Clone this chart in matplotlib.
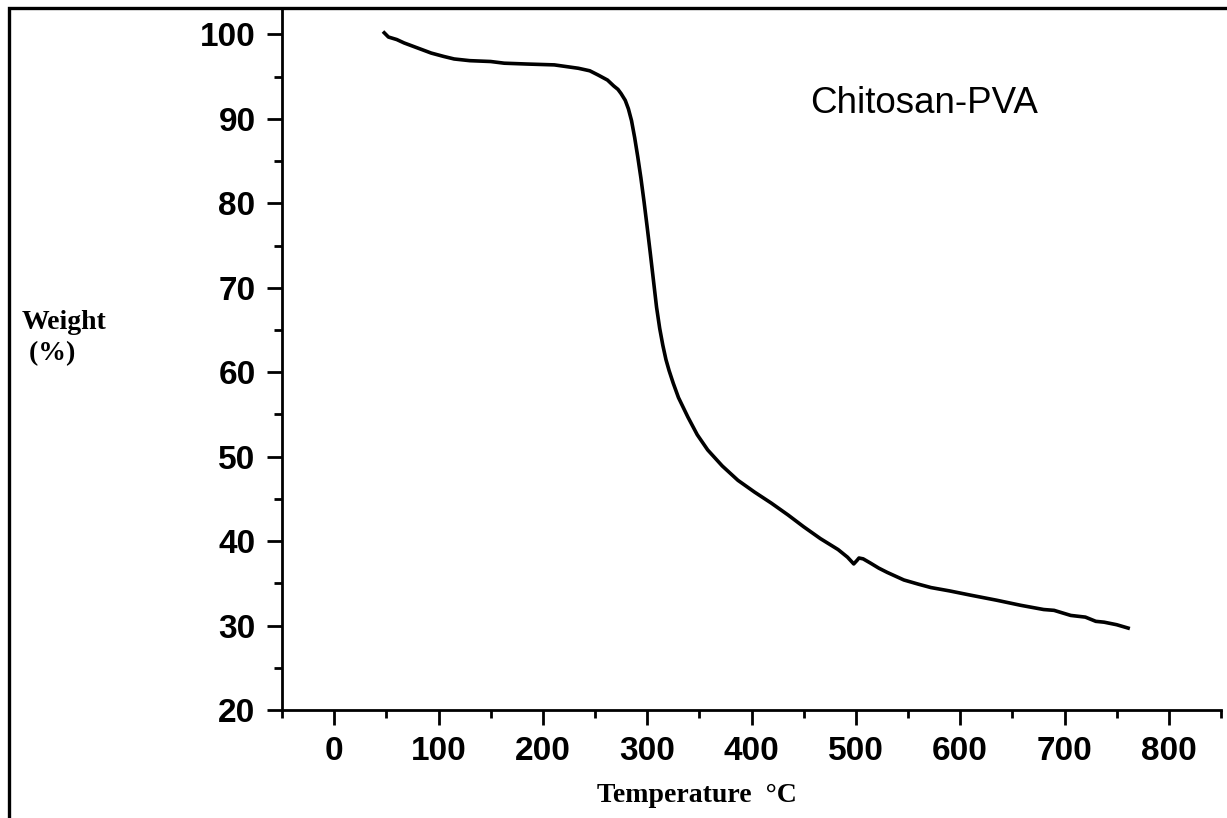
import matplotlib.pyplot as plt
from matplotlib.patches import Rectangle
from matplotlib.ticker import MultipleLocator

# TGA curve
temperature = [48, 52, 60, 67, 80, 93, 105, 115, 130, 150, 163, 185, 211, 234, 245, 253,
               262, 268, 272, 275, 279, 282, 285, 288, 291, 294, 297, 300, 303, 306, 309,
               312, 315, 318, 321, 325, 330, 339, 348, 358, 372, 387, 403, 419, 435, 450,
               466, 483, 492, 498, 501, 503, 507, 514, 522, 530, 546, 560, 572, 590, 610,
               635, 658, 680, 690, 706, 720, 730, 738, 750, 761]
weight = [100.2, 99.7, 99.4, 99.0, 98.4, 97.8, 97.4, 97.1, 96.9, 96.8, 96.6, 96.5, 96.4,
          96.0, 95.7, 95.2, 94.6, 93.9, 93.5, 93.0, 92.2, 91.2, 89.8, 87.8, 85.5, 83.0,
          80.2, 77.2, 74.1, 70.9, 67.7, 65.2, 63.2, 61.5, 60.2, 58.7, 57.0, 54.7, 52.6,
          50.8, 48.9, 47.2, 45.8, 44.5, 43.1, 41.7, 40.3, 39.0, 38.1, 37.3, 37.7, 38.0,
          37.9, 37.4, 36.8, 36.3, 35.4, 34.9, 34.5, 34.1, 33.6, 33.0, 32.4, 31.9, 31.8,
          31.2, 31.0, 30.5, 30.4, 30.1, 29.7]

x_ticks = [0, 100, 200, 300, 400, 500, 600, 700, 800]
y_ticks = [20, 30, 40, 50, 60, 70, 80, 90, 100]

fig = plt.figure(figsize=(12.27, 8.18), dpi=100)
ax = fig.add_axes([282/1227, 1 - 710/818, (1221 - 282)/1227, 700/818])

ax.plot(temperature, weight, color='black', lw=2.6, solid_joinstyle='round')

ax.set_xlim(-50, 850)
ax.set_ylim(20, 102.9)
ax.set_xticks(x_ticks)
ax.set_yticks(y_ticks)
ax.xaxis.set_minor_locator(MultipleLocator(50))
ax.yaxis.set_minor_locator(MultipleLocator(5))

for s in ['top', 'right']:
    ax.spines[s].set_visible(False)
for s in ['left', 'bottom']:
    ax.spines[s].set_linewidth(2)

ax.tick_params(which='major', direction='out', length=11, width=2, pad=8)
ax.tick_params(which='minor', direction='out', length=6, width=2)
for lab in ax.get_xticklabels() + ax.get_yticklabels():
    lab.set_family('Liberation Sans')
    lab.set_fontweight('bold')
    lab.set_fontsize(24)

ax.text(565, 91.8, 'Chitosan-PVA', ha='center', va='center',
        family='Liberation Sans', fontsize=26.5)

fig.text(22/1227, 1 - 338/818, 'Weight\n (%)', ha='left', va='center',
         family='Liberation Serif', fontweight='bold', fontsize=20, linespacing=1.3)
fig.text(697/1227, 1 - 795/818, 'Temperature  °C', ha='center', va='center',
         family='Liberation Serif', fontweight='bold', fontsize=20)

# outer frame of the original figure
fig.add_artist(Rectangle((9/1227, -0.2), 1.2, 1 - 8/818 + 0.2, transform=fig.transFigure,
                         fill=False, lw=2.4, edgecolor='black', clip_on=False))

fig.savefig('out.png', dpi=100)
